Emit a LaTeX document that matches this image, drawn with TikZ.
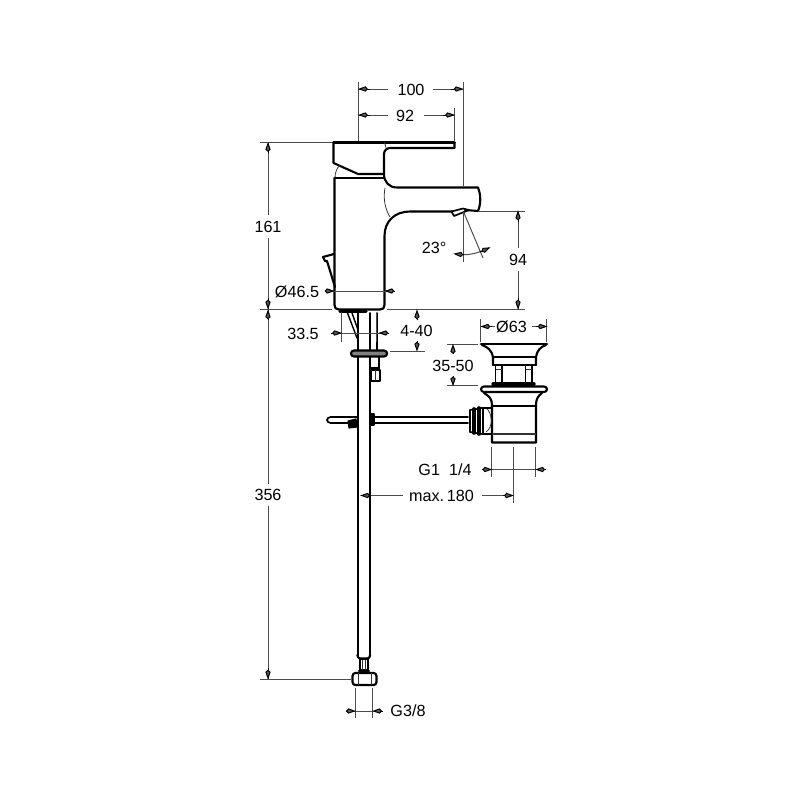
\documentclass[tikz,border=0pt]{standalone}
\usepackage{fontspec}
\setmainfont{Liberation Sans}
\usetikzlibrary{arrows.meta}
\begin{document}
\begin{tikzpicture}[x=0.025cm, y=-0.025cm]
%Declaration of styles
	\tikzstyle{body} = [draw=black, line width=1.5pt, line join=round, line cap=round] %style for the outlines
	\tikzstyle{thin} = [draw=black!80, line width=0.55pt] %style for the inner edges
	\tikzstyle{dim} = [draw=black!70, line width=0.7pt] %style for the dimension lines
	\tikzstyle{head} = [draw=black, line width=0.7pt, -{Kite[length=7pt, width=3.8pt, inset=1.6pt, fill=black!65]}, shorten >=-0.4pt] %style for the arrow heads
	\tikzstyle{lbl} = [inner sep=0pt, font=\fontsize{11.5}{12}\selectfont] %style for the dimensions
	\useasboundingbox (0,0) rectangle (800,800);
%Tap, lever and spout
	\draw [body, line width=2pt] (333.5,142.5) -- (454.5,142.5);
	\draw [body] (333.5,142.5) -- (333.5,163) -- (358,174) -- (384,174);
	\draw [body] (454.5,142.5) -- (454.5,148) -- (390,148) to[out=180, in=90] (384,154) -- (384,174);
	\draw [body] (334.5,178) -- (384,178);
	\draw [body] (334.5,178) -- (334.5,305) .. controls (334.5,308) and (336,309.5) .. (339,309.5) -- (380,309.5) .. controls (383,309.5) and (384.5,308) .. (384.5,305) -- (384.5,236) .. controls (384.5,221) and (395,211.5) .. (410,211.5) -- (452,211.5);
	\draw [body] (384,174) .. controls (384,182) and (389,187.5) .. (397,187.5) -- (478,187.5) .. controls (481,195) and (481,204) .. (478,211) -- (465,210);
	\draw [body, line width=1.2pt] (451.5,211.5) -- (463,208.5) -- (469,210) -- (454,216) -- cycle;
	\draw [thin] (384,142) .. controls (385,144) and (386,146) .. (386,148);
	\draw [thin] (335,178) .. controls (335,172) and (337,168) .. (340,165);
	\draw [thin] (385,188) .. controls (383,198) and (385,209) .. (390,217);
%Pop-up lever and supply tubes
	\draw [body] (334,254) -- (323,257) -- (325,261) -- (327,261) -- (335,287);
	\draw [body, line width=2.4pt] (340,311.5) -- (366,311.5);
	\draw [body, line width=1pt] (347.5,313) -- (357,338) (352,313) -- (358,330);
	\draw [body, line width=1.8pt] (358,313) -- (358,655);
	\draw [body, line width=1.2pt] (370,313) -- (370,655) (377,313) -- (377,350);
	\draw [body, fill=black!50, rounded corners=2pt] (351,350.5) rectangle (387,356.5);
	\draw [body, line width=1.1pt] (379,357) -- (379,370) (370,368) -- (379,368);
	\draw [body, line width=1.2pt] (371,370) rectangle (380,381);
	\draw [thin] (375,370) -- (375,381);
%Waste rod
	\draw [body, line width=1.2pt, rounded corners=2.5pt] (357,417) -- (327,417) -- (327,423) -- (357,423);
	\draw [body, fill=black, line width=0.8pt] (348,421) -- (356,419) -- (357,427) -- (349,428) -- cycle;
	\draw [body, fill=black, line width=0.8pt] (370.5,414) rectangle (374,425);
	\draw [body, line width=1.3pt] (374,417) -- (468,417) (374,423) -- (468,423);
%Waste set
	\draw [body, line width=2pt] (481,344) -- (547,344);
	\draw [body] (482,345) .. controls (488,347) and (492,351) .. (493,357) -- (493,365);
	\draw [body] (546,345) .. controls (540,347) and (537,351) .. (536,357) -- (536,365);
	\draw [body, line width=1.2pt] (493,357) -- (536,357) (493,365) -- (536,365);
	\draw [body, line width=1.2pt] (495.5,365) -- (495.5,382) (502,365) -- (502,382) (525.5,365) -- (525.5,382) (532,365) -- (532,382);
	\draw [thin] (495.5,369) -- (502,369) (525.5,369) -- (532,369);
	\draw [body, line width=2.4pt] (493,384) -- (534,384);
	\draw [body, rounded corners=2pt] (481,386.5) rectangle (547,392);
	\draw [body] (484,393) .. controls (489,396) and (492,399) .. (492,405) -- (492,442.5) -- (536,442.5) -- (536,405) .. controls (536,399) and (538,396) .. (542,393);
	\draw [body, line width=1.2pt] (492,406) -- (536,406);
	\draw [thin, line width=0.9pt] (492,434) -- (536,434);
	\draw [thin] (486,408) .. controls (492,412) and (494,427) .. (486,432);
	\draw [body, line width=1.2pt] (470,410) -- (482,408) -- (491,408) (470,432) -- (482,434) -- (491,434);
	\draw [body, line width=2.6pt] (474,409) -- (474,433) (479,408) -- (479,434);
	\draw [body, line width=1.2pt] (470,410) -- (470,432) (483,408) -- (483,434);
%Hose nut
	\draw [body, rounded corners=2pt] (357.5,655) -- (357.5,658.5) -- (370,658.5) -- (370,655);
	\draw [body, line width=1.1pt] (360,659) rectangle (368,670);
	\draw [thin] (362.5,660) -- (362.5,670) (365.5,660) -- (365.5,670);
	\draw [body] (359,671) -- (369,671);
	\draw [body, rounded corners=2pt] (352.5,673) rectangle (376.5,685);
	\draw [thin] (358,673) -- (358,685) (371,673) -- (371,685);
%Nodes, the dimensions
	\node [lbl] (width100) at (411,89.5) {100};
	\node [lbl] (width92) at (405,115.5) {92};
	\node [lbl] (height161) at (268,227) {161};
	\node [lbl] (height356) at (268,495) {356};
	\node [lbl] (height94) at (518,260) {94};
	\node [lbl] (angle23) at (434,247.5) {23°};
	\node [lbl] (dia46) at (297,291.5) {Ø46.5};
	\node [lbl] (dia33) at (303,333.5) {33.5};
	\node [lbl] (deck) at (416.5,330.5) {4-40};
	\node [lbl] (dia63) at (511.5,326.5) {Ø63};
	\node [lbl] (popup) at (453,365.5) {35-50};
	\node [lbl] (thread14) at (445,470) {G1\ \ 1/4};
	\node [lbl] (reach) at (441.5,496) {max.\,180};
	\node [lbl] (thread38) at (408,711) {G3/8};
%Extension lines
	\draw [dim] (358.5,82) -- (358.5,141);
	\draw [dim] (463,82) -- (463,186);
	\draw [dim] (454.5,108) -- (454.5,142);
	\draw [dim] (260,142) -- (332,142);
	\draw [dim] (260,309.5) -- (332,309.5) (387,309.5) -- (525,309.5);
	\draw [dim] (260,679) -- (351,679);
	\draw [dim] (478,211) -- (525,211);
	\draw [dim] (463,212) -- (463,262);
	\draw [dim] (464,213) -- (483,258);
	\draw [dim] (341.5,312) -- (341.5,342) (376.5,313) -- (376.5,342);
	\draw [dim] (390,351) -- (425,351);
	\draw [dim] (480.7,319) -- (480.7,342) (546.7,319) -- (546.7,342);
	\draw [dim] (446.5,344.5) -- (478,344.5) (446.5,385.7) -- (478,385.7);
	\draw [dim] (491.7,447) -- (491.7,477) (535.7,447) -- (535.7,477) (513.3,447) -- (513.3,503);
	\draw [dim] (355.3,688) -- (355.3,718) (372.7,688) -- (372.7,718);
%Dimension lines
	\draw [dim] (358.5,89) -- (388,89) (433,89) -- (463,89);
	\draw [dim] (358.5,115) -- (388,115) (424,115) -- (454.5,115);
	\draw [dim] (268,142) -- (268,215) (268,238) -- (268,309);
	\draw [dim] (268,310) -- (268,484) (268,506) -- (268,679);
	\draw [dim] (518,211) -- (518,248) (518,271) -- (518,309);
	\draw [dim] (456,254) .. controls (465,256) and (477,254) .. (489,248);
	\draw [dim] (326,291) -- (393,291);
	\draw [dim] (332,333) -- (387,333);
	\draw [dim] (481,326.5) -- (495,326.5) (532,326.5) -- (547,326.5);
	\draw [dim] (482,469.5) -- (546,469.5);
	\draw [dim] (360.7,495.5) -- (403,495.5) (482,495.5) -- (513.3,495.5);
	\draw [dim] (346,711) -- (383,711);
%Arrow heads
	\foreach \fx/\fy/\tx/\ty in {370/89/358.5/89, 451/89/463/89, 370/115/358.5/115, 443/115/454.5/115,
		268/153/268/142.5, 268/298/268/309, 268/320/268/310, 268/668/268/679,
		518/222/518/211, 518/298/518/309, 325/291/334/291, 394/291/385/291,
		331/333/341.5/333, 388/333/379/333, 417/320/417/310, 417/341/417/351,
		492/326.5/481/326.5, 536/326.5/547/326.5, 453/354/453/344.5, 453/376/453/385.7,
		482/469.5/491.7/469.5, 546/469.5/535.7/469.5, 371/495.5/360.7/495.5, 503/495.5/513.3/495.5,
		345.5/711/355.3/711, 383/711/372.7/711, 464/254.8/454/253.8, 480/252/490/247.5}
		\draw [head] (\fx,\fy) -- (\tx,\ty);
\end{tikzpicture}
\end{document}
